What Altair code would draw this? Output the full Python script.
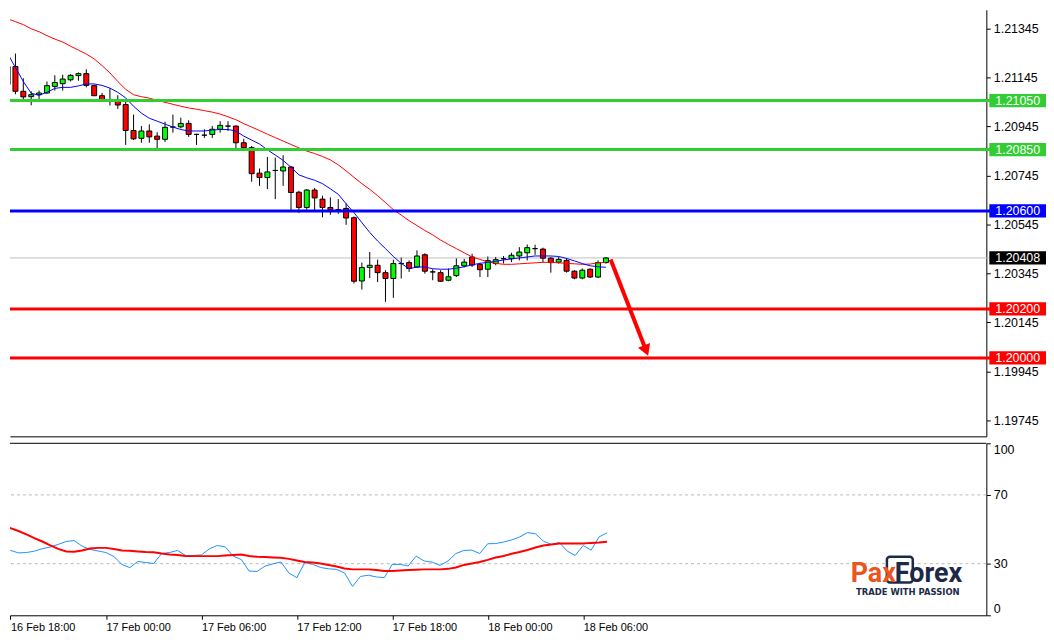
import altair as alt
import pandas as pd
import numpy as np

# ---------------- data ----------------
bar_index = list(range(-1, 76))  # 30-minute bars, 0 = 16 Feb 18:00

opens = [1.21116, 1.21189, 1.21088, 1.21066, 1.21074, 1.21081, 1.21108, 1.21119, 1.21135, 1.21152,
         1.21160, 1.21111, 1.21070, 1.21051, 1.21047, 1.21034, 1.20928, 1.20896, 1.20926, 1.20905,
         1.20892, 1.20942, 1.20943, 1.20957, 1.20912, 1.20909, 1.20912, 1.20933, 1.20946, 1.20946,
         1.20878, 1.20858, 1.20754, 1.20736, 1.20765, 1.20763, 1.20779, 1.20676, 1.20614, 1.20685,
         1.20648, 1.20614, 1.20605, 1.20610, 1.20572, 1.20314, 1.20369, 1.20378, 1.20348, 1.20324,
         1.20385, 1.20389, 1.20371, 1.20421, 1.20351, 1.20348, 1.20317, 1.20336, 1.20376, 1.20412,
         1.20381, 1.20362, 1.20385, 1.20405, 1.20405, 1.20416, 1.20429, 1.20446, 1.20444, 1.20407,
         1.20391, 1.20398, 1.20354, 1.20326, 1.20362, 1.20330, 1.20389]
highs = [1.21201, 1.21242, 1.21141, 1.21088, 1.21091, 1.21128, 1.21153, 1.21156, 1.21158, 1.21165,
         1.21178, 1.21115, 1.21081, 1.21101, 1.21072, 1.21054, 1.20993, 1.20946, 1.20953, 1.20921,
         1.20964, 1.20993, 1.20980, 1.20970, 1.20915, 1.20933, 1.20946, 1.20966, 1.20966, 1.20949,
         1.20894, 1.20865, 1.20773, 1.20820, 1.20817, 1.20827, 1.20784, 1.20682, 1.20689, 1.20693,
         1.20662, 1.20655, 1.20648, 1.20631, 1.20577, 1.20389, 1.20432, 1.20401, 1.20358, 1.20401,
         1.20409, 1.20398, 1.20439, 1.20427, 1.20362, 1.20358, 1.20365, 1.20406, 1.20404, 1.20425,
         1.20388, 1.20414, 1.20412, 1.20416, 1.20429, 1.20452, 1.20463, 1.20462, 1.20450, 1.20412,
         1.20412, 1.20407, 1.20358, 1.20365, 1.20365, 1.20398, 1.20412]
lows = [1.21108, 1.21076, 1.21055, 1.21031, 1.21057, 1.21078, 1.21091, 1.21091, 1.21128, 1.21131,
        1.21104, 1.21068, 1.21050, 1.21030, 1.21016, 1.20869, 1.20889, 1.20878, 1.20878, 1.20854,
        1.20881, 1.20919, 1.20937, 1.20902, 1.20869, 1.20898, 1.20898, 1.20919, 1.20926, 1.20854,
        1.20851, 1.20719, 1.20702, 1.20689, 1.20648, 1.20702, 1.20601, 1.20592, 1.20605, 1.20604,
        1.20574, 1.20584, 1.20588, 1.20543, 1.20304, 1.20279, 1.20326, 1.20310, 1.20229, 1.20245,
        1.20324, 1.20351, 1.20367, 1.20344, 1.20317, 1.20310, 1.20313, 1.20330, 1.20369, 1.20371,
        1.20330, 1.20330, 1.20378, 1.20385, 1.20391, 1.20398, 1.20398, 1.20421, 1.20391, 1.20348,
        1.20385, 1.20348, 1.20321, 1.20321, 1.20326, 1.20326, 1.20385]
closes = [1.21189, 1.21088, 1.21065, 1.21074, 1.21081, 1.21111, 1.21124, 1.21138, 1.21153, 1.21160,
          1.21112, 1.21070, 1.21054, 1.21049, 1.21032, 1.20928, 1.20894, 1.20926, 1.20902, 1.20892,
          1.20941, 1.20942, 1.20957, 1.20912, 1.20912, 1.20909, 1.20933, 1.20949, 1.20946, 1.20878,
          1.20858, 1.20752, 1.20736, 1.20759, 1.20765, 1.20779, 1.20675, 1.20614, 1.20685, 1.20653,
          1.20614, 1.20605, 1.20605, 1.20571, 1.20313, 1.20369, 1.20378, 1.20348, 1.20324, 1.20385,
          1.20385, 1.20365, 1.20416, 1.20354, 1.20351, 1.20313, 1.20331, 1.20376, 1.20391, 1.20379,
          1.20360, 1.20397, 1.20401, 1.20405, 1.20419, 1.20432, 1.20450, 1.20446, 1.20407, 1.20389,
          1.20402, 1.20354, 1.20326, 1.20358, 1.20330, 1.20389, 1.20408]

ma_fast = [1.21242, 1.21185, 1.21128, 1.21080, 1.21072, 1.21084, 1.21100, 1.21104, 1.21104, 1.21110,
           1.21118, 1.21118, 1.21112, 1.21101, 1.21084, 1.21061, 1.21027, 1.20999, 1.20978, 1.20966,
           1.20954, 1.20942, 1.20932, 1.20926, 1.20926, 1.20926, 1.20930, 1.20932, 1.20932, 1.20926,
           1.20905, 1.20889, 1.20873, 1.20849, 1.20828, 1.20806, 1.20778, 1.20747, 1.20735, 1.20725,
           1.20711, 1.20690, 1.20668, 1.20629, 1.20593, 1.20552, 1.20512, 1.20477, 1.20446, 1.20414,
           1.20386, 1.20364, 1.20371, 1.20371, 1.20364, 1.20362, 1.20362, 1.20366, 1.20372, 1.20380,
           1.20386, 1.20390, 1.20394, 1.20400, 1.20404, 1.20408, 1.20412, 1.20416, 1.20416, 1.20416,
           1.20414, 1.20406, 1.20396, 1.20385, 1.20376, 1.20372, 1.20370]
ma_slow = [1.21384, 1.21372, 1.21360, 1.21343, 1.21331, 1.21315, 1.21301, 1.21289, 1.21272, 1.21256,
           1.21240, 1.21220, 1.21193, 1.21163, 1.21128, 1.21096, 1.21074, 1.21066, 1.21060, 1.21051,
           1.21043, 1.21035, 1.21027, 1.21020, 1.21015, 1.21009, 1.21003, 1.20995, 1.20984, 1.20972,
           1.20956, 1.20942, 1.20928, 1.20913, 1.20899, 1.20885, 1.20871, 1.20857, 1.20844, 1.20834,
           1.20822, 1.20808, 1.20788, 1.20763, 1.20737, 1.20711, 1.20688, 1.20662, 1.20634, 1.20605,
           1.20583, 1.20560, 1.20540, 1.20520, 1.20502, 1.20481, 1.20463, 1.20446, 1.20429, 1.20412,
           1.20402, 1.20392, 1.20386, 1.20382, 1.20382, 1.20384, 1.20386, 1.20388, 1.20390, 1.20390,
           1.20388, 1.20386, 1.20384, 1.20382, 1.20383, 1.20388, 1.20390]

osc_main = [41.7, 37.7, 36.3, 36.5, 37.3, 38.7, 39.7, 41.2, 42.9, 43.5,
            40.2, 38.3, 37.4, 36.5, 34.2, 29.6, 27.7, 31.3, 30.7, 30.1,
            35.9, 36.5, 37.7, 34.8, 34.8, 35.1, 38.6, 40.6, 39.8, 34.4,
            32.5, 25.7, 25.5, 28.6, 29.9, 31.0, 24.6, 21.9, 30.7, 29.6,
            27.8, 27.0, 26.7, 24.6, 16.8, 22.6, 23.3, 22.3, 21.9, 29.6,
            29.6, 28.7, 34.4, 31.6, 30.9, 29.0, 31.6, 35.9, 37.7, 37.9,
            35.9, 41.6, 41.7, 42.6, 43.8, 45.5, 48.1, 47.4, 43.1, 41.2,
            42.3, 37.3, 34.8, 40.6, 37.9, 45.6, 47.9]
osc_signal = [52.2, 50.7, 49.0, 47.0, 44.9, 42.9, 40.6, 38.6, 37.1, 36.9,
              37.7, 38.8, 39.2, 39.2, 38.6, 37.7, 37.5, 37.1, 36.8, 36.7,
              35.9, 35.4, 35.1, 34.5, 34.4, 34.4, 34.4, 34.4, 34.8, 35.1,
              35.4, 34.5, 34.0, 33.9, 33.6, 33.4, 32.8, 31.9, 31.0, 30.7,
              30.1, 29.3, 28.4, 27.2, 26.7, 26.7, 26.7, 26.4, 25.8, 25.7,
              26.1, 26.3, 26.5, 26.7, 26.7, 26.7, 27.0, 27.8, 29.3, 30.1,
              31.0, 32.2, 33.6, 34.5, 35.8, 36.8, 38.0, 39.4, 40.6, 41.2,
              41.7, 41.7, 41.7, 41.7, 42.1, 42.3, 42.7]

time_ticks = [0, 12, 24, 36, 48, 60, 72]
time_labels = ["16 Feb 18:00", "17 Feb 00:00", "17 Feb 06:00", "17 Feb 12:00",
               "17 Feb 18:00", "18 Feb 00:00", "18 Feb 06:00"]
price_ticks = [1.21345, 1.21145, 1.20945, 1.20745, 1.20545, 1.20345, 1.20145, 1.19945, 1.19745]
level_prices = [1.21050, 1.20850, 1.20600, 1.20200, 1.20000]
level_colors = ["#32cd32", "#32cd32", "#0000ff", "#ff0000", "#ff0000"]
current_price = 1.20408
osc_ticks = [0, 30, 70, 100]
osc_levels = [30, 70]
arrow_from = [75.6, 1.20402]
arrow_to = [80.1, 1.20030]

# ---------------- tables ----------------
df = pd.DataFrame({"k": bar_index, "open": opens, "high": highs, "low": lows, "close": closes,
                   "ma_fast": ma_fast, "ma_slow": ma_slow, "osc": osc_main, "sig": osc_signal})
df["dir"] = np.where(df["close"] > df["open"], "up", np.where(df["close"] < df["open"], "down", "flat"))

levels_df = pd.DataFrame({"price": level_prices + [current_price],
                          "col": level_colors + ["#000000"]})
lines_df = pd.DataFrame({"price": level_prices, "col": level_colors})
cur_df = pd.DataFrame({"price": [current_price]})
arrow_df = pd.DataFrame({"x": [arrow_from[0]], "y": [arrow_from[1]],
                         "x2": [arrow_to[0]], "y2": [arrow_to[1]]})
osc_lv_df = pd.DataFrame({"v": osc_levels})

W = 982
H_TOP = 429
H_BOT = 173
x_scale = alt.Scale(domain=[-0.0625, 122.6875], nice=False, zero=False)
y_price = alt.Scale(domain=[1.196801, 1.214205], nice=False, zero=False)
y_osc = alt.Scale(domain=[0, 100], nice=False, zero=False)

FONT = "Liberation Sans"

price_axis = alt.Axis(orient="right", values=price_ticks, format=".5f", title=None,
                      tickSize=4, labelPadding=3, labelFont=FONT, labelFontSize=12.5,
                      labelColor="black", domainColor="black", tickColor="black",
                      grid=False, labelOverlap=False, labelFlush=False)
top_x_axis = alt.Axis(labels=False, ticks=False, domain=True, title=None, grid=False,
                      domainColor="black", orient="bottom")

osc_axis = alt.Axis(orient="right", values=osc_ticks, title=None, tickSize=4, labelPadding=3,
                    labelFont=FONT, labelFontSize=12.5, labelColor="black",
                    domainColor="black", tickColor="black", grid=False, labelFlush=True,
                    labelOverlap=False)
label_expr = ("[" + ",".join("'%s'" % t for t in time_labels) + "][indexof(["
              + ",".join(str(t) for t in time_ticks) + "], datum.value)]")
time_axis = alt.Axis(values=time_ticks, labelExpr=label_expr, labelAlign="left",
                     labelFlush=False, labelOverlap=False, tickSize=4, labelPadding=2,
                     title=None, grid=False, labelFont=FONT, labelFontSize=11,
                     labelColor="black", domainColor="black", tickColor="black",
                     orient="bottom")


def px(field):
    return alt.X(field, scale=x_scale, axis=top_x_axis)


def py(field):
    return alt.Y(field, scale=y_price, axis=price_axis)


# ---------------- top panel ----------------
cur_line = alt.Chart(cur_df).mark_rule(color="#c0c0c0", strokeWidth=1, clip=False).encode(
    x=alt.value(0), x2=alt.value(986), y=py("price:Q"))

wicks = alt.Chart(df).mark_rule(color="black", strokeWidth=1, clip=True).encode(
    x=px("k:Q"), y=py("low:Q"), y2="high:Q")

bodies = alt.Chart(df).mark_bar(size=5, stroke="black", strokeWidth=1, clip=True).encode(
    x=px("k:Q"), y=py("open:Q"), y2="close:Q",
    fill=alt.Fill("dir:N", scale=alt.Scale(domain=["up", "down", "flat"],
                                           range=["#00ff00", "#ff0000", "#000000"]), legend=None),
)

ma_slow_line = alt.Chart(df).mark_line(color="#ff0000", strokeWidth=1, clip=True).encode(
    x=px("k:Q"), y=py("ma_slow:Q"))
ma_fast_line = alt.Chart(df).mark_line(color="#0000ff", strokeWidth=1, clip=True).encode(
    x=px("k:Q"), y=py("ma_fast:Q"))

level_lines = alt.Chart(lines_df).mark_rule(strokeWidth=3, clip=False).encode(
    x=alt.value(0), x2=alt.value(986), y=py("price:Q"),
    color=alt.Color("col:N", scale=None),
)

boxes = alt.Chart(levels_df).transform_calculate(
    lo="datum.price - 0.00027", hi="datum.price + 0.00027"
).mark_rect(clip=False).encode(
    x=alt.value(985), x2=alt.value(1042),
    y=py("lo:Q"), y2="hi:Q",
    color=alt.Color("col:N", scale=None),
)
box_text = alt.Chart(levels_df).mark_text(
    align="left", baseline="middle", color="white", font=FONT, fontSize=12.5, clip=False
).encode(
    x=alt.value(991), y=py("price:Q"),
    text=alt.Text("price:Q", format=".5f"),
)

arrow_line = alt.Chart(arrow_df).mark_rule(color="#ff0000", strokeWidth=4).encode(
    x=px("x:Q"), x2="x2:Q", y=py("y:Q"), y2="y2:Q")
arrow_head = alt.Chart(arrow_df).mark_point(
    shape="triangle-down", filled=True, size=170, angle=338.6, color="#ff0000", opacity=1
).encode(x=px("x2:Q"), y=py("y2:Q"))

top = alt.layer(
    cur_line, wicks, bodies, ma_slow_line, ma_fast_line, level_lines, boxes, box_text,
    arrow_line, arrow_head
).properties(width=W, height=H_TOP)

# ---------------- bottom panel ----------------
def bx(field):
    return alt.X(field, scale=x_scale, axis=time_axis)


def by(field):
    return alt.Y(field, scale=y_osc, axis=osc_axis)


osc_lv = alt.Chart(osc_lv_df).mark_rule(color="#b8b8b8", strokeWidth=1, strokeDash=[3, 3]).encode(
    y=by("v:Q"))
osc_line = alt.Chart(df).mark_line(color="#1e90ff", strokeWidth=1, clip=True).encode(
    x=bx("k:Q"), y=by("osc:Q"))
sig_line = alt.Chart(df).mark_line(color="#ff0000", strokeWidth=2, clip=True).encode(
    x=bx("k:Q"), y=by("sig:Q"))

top_border = alt.Chart(pd.DataFrame({"a": [0]})).mark_rule(color="black", strokeWidth=1).encode(
    x=alt.value(0), x2=alt.value(W), y=alt.value(0))

logo_box = alt.Chart(pd.DataFrame({"a": [0]})).mark_rect(
    fill="white", stroke="#1d2a47", strokeWidth=2.5, cornerRadius=3
).encode(x=alt.value(882), x2=alt.value(908), y=alt.value(114), y2=alt.value(140))
logo_pax = alt.Chart(pd.DataFrame({"t": ["Pax"]})).mark_text(
    align="right", baseline="alphabetic", font="Roboto", fontWeight="bold", fontSize=27,
    color="#ea5520"
).encode(x=alt.value(891), y=alt.value(140), text="t:N")
logo_forex = alt.Chart(pd.DataFrame({"t": ["Forex"]})).mark_text(
    align="left", baseline="alphabetic", font="Roboto", fontWeight="bold", fontSize=27,
    color="#1d2a47"
).encode(x=alt.value(890), y=alt.value(140), text="t:N")
logo_tag = alt.Chart(pd.DataFrame({"t": ["TRADE WITH PASSION"]})).mark_text(
    align="center", baseline="middle", font="DejaVu Sans", fontWeight="bold", fontSize=8.5,
    color="#1d2a47"
).encode(x=alt.value(903), y=alt.value(150), text="t:N")

bottom = alt.layer(
    osc_lv, osc_line, sig_line, top_border, logo_box, logo_pax, logo_forex, logo_tag
).properties(width=W, height=H_BOT)

chart = alt.vconcat(top, bottom, spacing=6).resolve_scale(
    x="independent", y="independent", fill="independent", color="independent"
).properties(padding=0).configure_view(stroke=None).configure_axis(grid=False)

chart.save("out.html", embed_options={"renderer": "svg", "actions": False})
